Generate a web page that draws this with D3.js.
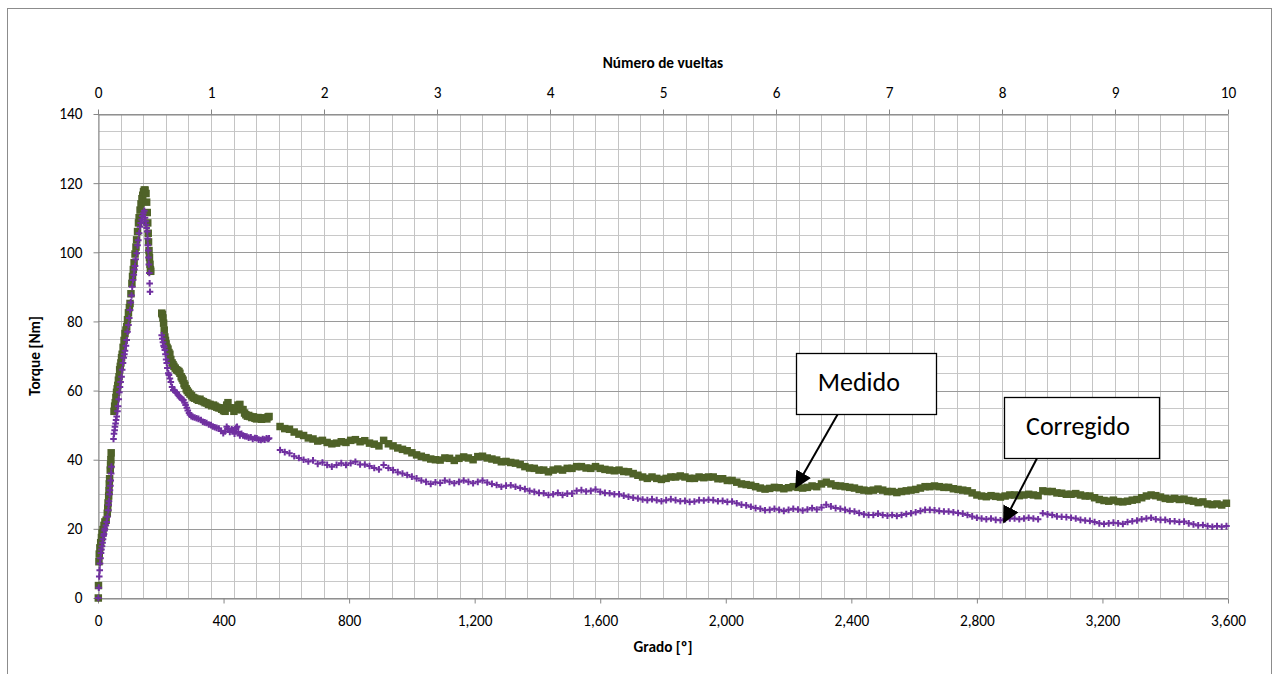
<!DOCTYPE html>
<html>
<head>
<meta charset="utf-8">
<script src="https://cdn.jsdelivr.net/npm/d3@7/dist/d3.min.js"></script>
<style>
  html, body { margin: 0; padding: 0; background: #fff; }
  svg { display: block; font-family: Carlito, Lato, "Liberation Sans", sans-serif; }
</style>
</head>
<body>
<svg id="chart" width="1279" height="674"></svg>
<script>
// ---------------- DATA ----------------
// Peak region (degree, torque)
const medidoPeak = [
  [1,0],[1.5,3.6],[3,10.5],[4,12.7],[6,14.5],[8.6,16],[11,17.5],[13,18.8],[16,19.8],[19,21],[22,22],[26,22.5],
  [29.6,24.5],[31,26],[32,27.5],[34,29.5],[35,31],[36,33],[37,34.5],[39,37],[40,38.5],[41,40],[42,42],
  [51,54],[53,55.5],[55,56.5],[57,58],[59,59.5],[61,60.5],[63,61.5],[65,63],[67,64],[69,66],[71,67],[73,68],
  [75,69.5],[77,70.5],[80,72.5],[83,74.5],[86,76.5],[89,77.5],[91.4,78.5],[94,80.5],[97,82.5],[100,84],[102,85.2],
  [105,88],[108,91],[110,93],[112.5,95],[115,97],[118,99.5],[121,101.5],[123,103.6],[126,106],[129,108.5],[131,110],
  [134,112.2],[137,114],[140,115.5],[142.5,116.5],[145,117.5],[147.5,118],[150,118],[153,117],[155,114.5],[157,111.5],
  [158.5,108.5],[160,105.5],[161,103],[162.5,100.5],[164,98.5],[165.7,96.5],[167,95],[168,94.5],
  [203,82.4],[205,82],[207,81],[209,79.5],[211,77.5],[213,75.5],[215,74.5],[217,73.5],[220,72.5],[223,72],[226,71],
  [229,70.5],[232,69],[236,68],[239,67.5],[242,67],[246,66.5],[250,66],[254,65.8],[258,65.5],[261,65],[265,64],
  [268,63.5],[271,63],[274,62],[277,61.5],[281,60.5],[284,60],[288,59.5],[293,59],[298,58.5],[303,58],[308,57.8],
  [315,57.5],[320,57.2],[325,57.5],[330,57],[336,56.8],[341,56.5],[347,56.4],[352,56],[357,56],[362,55.6],[368,55.8],
  [373,55.5],[378,55.2],[384,55],[389,55],[394,54.6],[400,54.2],[405,54],[410,55.8],[414,56.5],[420,55],[427,55],
  [433,54],[440,54.5],[446,55.8],[452,56],[457,54.5],[462,54.5],[467,53.5],[471,53],[476,52.6],[480,52.8],[484,52.5],
  [490,52.2],[495,52.4],[500,52],[505,51.8],[510,52.2],[516,52],[521,51.7],[527,52.1],[532,52],[538,51.8],[542,52.4],[545,52.5]
];
const corregidoPeak = [
  [1,0],[2.5,3],[4,6.2],[5.5,8],[6.4,10],[8,11.5],[9.6,13],[11,14],[12.7,15],[14.5,16],[16,17],[18,18],[19,18.5],
  [21,19.5],[22,20],[25,21],[27.7,22],[30,23.5],[33,25.4],[34,27],[35,28],[37,30],[38,31.2],[39.5,32.5],[40.5,34],[42,36],[43,38],
  [49.4,46],[51,47.5],[53,48.5],[54,49.5],[56,50.5],[57.5,51.5],[59.6,52.5],[62,54],[64,55.5],[66,57.5],[68,59.5],
  [70,61],[72,62.5],[75,64],[77,66],[79.6,68],[82,69.5],[84,70.5],[86,71.5],[89,73],[91.4,74.6],[94,77],[97,79],
  [99.5,81],[102,83.3],[104.5,85.5],[107,87.5],[109,90],[111.5,92],[114,93.5],[116,95],[118,96],[120,98],[123.3,99.7],
  [126,102],[128.4,103.5],[131,105.5],[133.8,107.4],[136,108.5],[139,109.5],[141,110.5],[144.3,111.3],[147.5,112],
  [149.7,110],[151.5,109],[153,108],[155,107],[157,106],[158,104],[159,102],[160,100.5],[161,98.5],[162,96.5],
  [163.4,94],[164.5,91],[165.7,88.6],
  [203,76],[205,75],[207,74],[209,73],[211,72.5],[213,71.7],[215,70.5],[217,69],[219,68],[221,66.5],[224,65],
  [226,64.5],[229,63.5],[232,62.5],[236,61],[240,60.2],[244,60],[247,59.6],[251,59.3],[255,58.8],[258,58.4],[261,58],
  [265,57.8],[268,57.5],[272,57.3],[276,56.5],[279,55.8],[283,55],[286,54.2],[290,53.5],[293,53],[297,52.6],[302,52.4],
  [308,52.2],[314,52],[320,51.8],[328,51.5],[334,51],[340,50.8],[346,50.6],[353,50.2],[360,50],[366,49.6],[372,49.4],
  [378,49.2],[385,49],[392,48.3],[399,47.7],[405,48.2],[410,49.5],[414,49],[420,48],[426,48.8],[430,48.5],[435,47.5],
  [440,49.2],[443,49.5],[447,48],[452,47],[457,47.5],[462,47],[468,46.8],[474,46.7],[480,46.4],[487,46.5],[493,46],
  [500,46.3],[506,46.2],[512,45.8],[519,45.7],[525,46],[531,45.8],[537,46.2],[542,46],[545,46.2]
];

// Tail region: one reading every 15 degrees from 580 to 3595
const tailStart = 580, tailStep = 15;
const medidoTail = [
  49.6,49.0,48.8,48.0,47.4,47.0,46.3,46.0,45.4,45.6,
  45.0,44.6,44.8,45.2,45.0,45.6,45.8,45.2,45.5,44.8,
  44.5,44.0,45.6,44.6,44.0,43.4,43.0,42.6,42.0,41.4,
  41.0,40.6,40.2,40.0,39.9,40.5,40.4,39.8,40.4,40.8,
  40.5,40.0,40.9,41.0,40.5,40.2,39.9,39.4,39.5,39.2,
  39.0,38.6,38.0,37.6,37.5,37.0,37.0,36.5,37.0,37.3,
  37.0,37.5,37.5,38.0,38.0,37.6,37.5,38.0,37.5,37.2,
  37.0,36.8,37.0,36.6,36.5,36.0,35.5,35.0,34.6,35.0,
  34.6,34.3,34.6,35.0,35.0,35.3,35.0,34.6,34.6,35.0,
  34.8,35.0,35.0,34.5,34.5,34.0,34.0,33.5,33.0,32.8,
  32.6,32.2,31.8,31.5,31.7,32.0,31.9,31.6,31.9,32.2,
  32.0,31.8,32.0,32.4,32.2,33.0,33.5,33.0,32.5,32.4,
  32.2,32.0,31.8,31.4,31.2,31.0,31.2,31.5,31.2,30.8,
  30.8,30.5,30.8,31.0,31.2,31.4,31.8,32.2,32.2,32.4,
  32.2,32.0,32.0,31.6,31.4,31.2,31.0,30.4,29.8,29.5,
  29.3,29.6,29.4,29.2,29.5,29.8,29.8,29.6,29.8,30.0,
  29.8,29.6,31.0,30.8,30.8,30.4,30.3,30.0,30.0,30.2,
  29.8,29.5,29.5,29.0,28.5,28.2,28.0,28.3,27.9,27.8,
  28.0,28.3,28.5,29.0,29.5,29.8,29.6,29.2,28.8,28.6,
  28.8,28.5,28.6,28.2,28.0,27.6,27.8,27.2,27.0,27.2,
  26.9,27.4
];
const corregidoTail = [
  42.8,42.2,41.9,41.0,40.5,40.0,39.5,39.8,38.8,39.2,
  38.5,38.0,38.5,39.0,38.5,39.0,39.4,38.6,38.6,38.2,
  37.6,37.2,38.5,37.6,37.0,36.4,36.0,35.6,35.1,34.6,
  34.0,33.6,33.0,33.5,33.3,34.0,33.6,33.2,33.6,34.0,
  33.6,33.2,33.6,34.0,33.4,33.0,32.7,32.2,32.5,32.6,
  32.2,31.8,31.5,31.0,30.7,30.4,30.3,29.8,30.0,30.4,
  29.8,30.2,30.2,31.0,31.2,30.8,31.0,31.4,30.7,30.4,
  30.3,30.0,30.0,29.6,29.3,29.0,28.8,28.5,28.3,28.6,
  28.3,28.0,28.3,28.6,28.3,28.0,28.1,27.8,27.9,28.3,
  28.2,28.4,28.3,28.0,28.1,27.8,27.9,27.4,27.0,26.8,
  26.4,26.0,25.8,25.4,25.5,25.8,25.5,25.2,25.5,25.8,
  25.6,25.3,25.6,26.0,25.6,26.2,27.0,26.5,26.0,25.8,
  25.5,25.2,25.0,24.6,24.2,24.0,24.0,24.4,24.0,23.8,
  24.0,23.7,24.0,24.3,24.5,24.8,25.2,25.5,25.5,25.4,
  25.2,25.0,25.0,24.8,24.6,24.4,24.0,23.6,23.2,23.0,
  22.8,23.0,22.6,22.5,22.8,23.0,23.0,22.8,23.0,23.2,
  23.0,22.8,24.5,24.2,24.0,23.6,23.5,23.4,23.2,23.0,
  22.6,22.4,22.3,22.0,21.6,21.4,21.6,21.8,21.6,21.4,
  22.0,22.2,22.4,22.8,23.0,23.2,22.8,22.6,22.6,22.2,
  22.2,22.0,22.1,21.6,21.3,21.0,21.1,20.8,20.6,20.8,
  20.6,20.8
];

const xTicksDeg = [0,400,800,1200,1600,2000,2400,2800,3200,3600];
const xTickLabels = ["0","400","800","1,200","1,600","2,000","2,400","2,800","3,200","3,600"];
const turnTicks = [0,1,2,3,4,5,6,7,8,9,10];
const yTicks = [0,20,40,60,80,100,120,140];

const labels = { top: "Número de vueltas", bottom: "Grado [º]", left: "Torque [Nm]" };
// annotations: box in data units (deg, Nm), arrow from box to point
const notes = [
  { text: "Medido",    box: [2224, 2670, 70.9, 53.2], textX: 2424, textY: 60.0, from: [2357, 53.2], to: [2224, 32.1] },
  { text: "Corregido", box: [2886, 3380, 58.1, 40.5], textX: 3122, textY: 47.2, from: [2992, 40.5], to: [2886, 22.0] }
];

// ---------------- CHART ----------------
const svg = d3.select("#chart");
const L = 98, R = 1228, T = 114, B = 598;

const x = d3.scaleLinear().domain([0, 3600]).range([L, R]);
const xt = d3.scaleLinear().domain([0, 10]).range([L, R]);
const y = d3.scaleLinear().domain([0, 140]).range([B, T]);

const tailDeg = d3.range(medidoTail.length).map(i => tailStart + i * tailStep);
const medido = medidoPeak.concat(medidoTail.map((v, i) => [tailDeg[i], v]));
const corregido = corregidoPeak.concat(corregidoTail.map((v, i) => [tailDeg[i], v]));

// outer frame
svg.append("rect").attr("x", 7.5).attr("y", 8.5).attr("width", 1264).attr("height", 700)
  .attr("fill", "#fff").attr("stroke", "#8c8c8c").attr("stroke-width", 1);

// grid
const g = svg.append("g");
const minorY = d3.range(0, 141, 5).filter(v => v % 20 !== 0);
g.selectAll(".hm").data(minorY).join("line")
  .attr("x1", L).attr("x2", R).attr("y1", d => Math.round(y(d)) + 0.5).attr("y2", d => Math.round(y(d)) + 0.5)
  .attr("stroke", "#c8c8c8").attr("stroke-width", 1);
const vGrid = d3.range(0, 51).map(i => i * 0.2);
g.selectAll(".vg").data(vGrid).join("line")
  .attr("y1", T).attr("y2", B).attr("x1", d => Math.round(xt(d)) + 0.5).attr("x2", d => Math.round(xt(d)) + 0.5)
  .attr("stroke", "#c4c4c4").attr("stroke-width", 1);
g.selectAll(".hM").data(yTicks).join("line")
  .attr("x1", L).attr("x2", R).attr("y1", d => Math.round(y(d)) + 0.5).attr("y2", d => Math.round(y(d)) + 0.5)
  .attr("stroke", "#9a9a9a").attr("stroke-width", 1);

// axes
const axisColor = "#868686";
const fontTick = "15.3px";
const gl = svg.append("g").attr("transform", `translate(${L + 0.5},0)`)
  .call(d3.axisLeft(y).tickValues(yTicks).tickSize(5).tickSizeOuter(0).tickPadding(11));
const gb = svg.append("g").attr("transform", `translate(0,${B + 0.5})`)
  .call(d3.axisBottom(x).tickValues(xTicksDeg).tickFormat((d, i) => xTickLabels[i]).tickSize(5).tickSizeOuter(0).tickPadding(12));
const gt = svg.append("g").attr("transform", `translate(0,${T + 0.5})`)
  .call(d3.axisTop(xt).tickValues(turnTicks).tickFormat(d3.format("d")).tickSize(5).tickSizeOuter(0).tickPadding(12));
[gl, gb, gt].forEach(a => {
  a.select(".domain").attr("stroke", axisColor);
  a.selectAll(".tick line").attr("stroke", axisColor);
  a.selectAll("text").attr("fill", "#000").style("font-size", fontTick).style("font-family", "Carlito, Lato, sans-serif");
});
svg.append("line").attr("x1", R + 0.5).attr("x2", R + 0.5).attr("y1", T).attr("y2", B).attr("stroke", "#b0b0b0");

// series: Medido (green squares) then Corregido (purple plus)
const sq = d3.symbol().type(d3.symbolSquare).size(56);
svg.append("g").selectAll("path").data(medido).join("path")
  .attr("transform", d => `translate(${x(d[0])},${y(d[1])})`)
  .attr("d", sq).attr("fill", "#4F6228");

svg.append("g").selectAll("path").data(corregido).join("path")
  .attr("transform", d => `translate(${x(d[0])},${y(d[1])})`)
  .attr("d", "M-3.3,0H3.3M0,-3.3V3.3").attr("stroke", "#7030A0").attr("stroke-width", 2).attr("fill", "none");

// axis titles
const titleStyle = sel => sel.style("font-weight", "bold").style("font-size", "15.3px").attr("text-anchor", "middle");
svg.append("text").attr("x", (L + R) / 2).attr("y", 68).call(titleStyle).text(labels.top);
svg.append("text").attr("x", (L + R) / 2).attr("y", 652).call(titleStyle).text(labels.bottom);
svg.append("text").attr("transform", `translate(40,${(T + B) / 2}) rotate(-90)`).call(titleStyle).text(labels.left);

// annotations
svg.append("defs").append("marker").attr("id", "ah").attr("viewBox", "0 0 10 10").attr("refX", 9).attr("refY", 5)
  .attr("markerWidth", 17).attr("markerHeight", 17).attr("orient", "auto").attr("markerUnits", "userSpaceOnUse")
  .append("path").attr("d", "M0,0L10,5L0,10Z").attr("fill", "#000");

notes.forEach(n => {
  const [x0, x1, y0, y1] = n.box;
  svg.append("line")
    .attr("x1", x(n.from[0])).attr("y1", y(n.from[1])).attr("x2", x(n.to[0])).attr("y2", y(n.to[1]))
    .attr("stroke", "#000").attr("stroke-width", 2).attr("marker-end", "url(#ah)");
  svg.append("rect").attr("x", Math.round(x(x0)) + 0.5).attr("y", Math.round(y(y0)) + 0.5)
    .attr("width", Math.round(x(x1) - x(x0))).attr("height", Math.round(y(y1) - y(y0)))
    .attr("fill", "#fff").attr("stroke", "#000").attr("stroke-width", 1.3);
  svg.append("text").attr("x", x(n.textX)).attr("y", y(n.textY)).attr("text-anchor", "middle")
    .style("font-size", "26px").text(n.text);
});
</script>
</body>
</html>
